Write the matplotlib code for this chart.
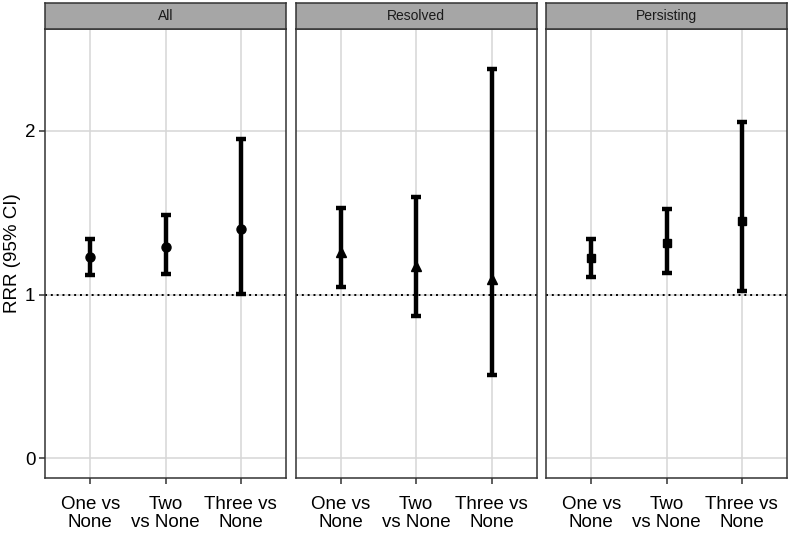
import matplotlib
matplotlib.use("Agg")
import matplotlib.pyplot as plt

plt.rcParams['font.family'] = ['Liberation Sans', 'DejaVu Sans']

panels = ["All", "Resolved", "Persisting"]
comparisons = ["One vs\nNone", "Two\nvs None", "Three vs\nNone"]
markers = {"All": "o", "Resolved": "^", "Persisting": "s"}

# estimated RRR and 95% CI per panel
rrr = {
    "All":        [1.227, 1.292, 1.398],
    "Resolved":   [1.262, 1.176, 1.093],
    "Persisting": [1.221, 1.314, 1.449],
}
lower = {
    "All":        [1.119, 1.125, 1.003],
    "Resolved":   [1.044, 0.869, 0.507],
    "Persisting": [1.107, 1.133, 1.020],
}
upper = {
    "All":        [1.341, 1.483, 1.947],
    "Resolved":   [1.526, 1.595, 2.377],
    "Persisting": [1.341, 1.522, 2.053],
}

W, H = 790, 533
fig = plt.figure(figsize=(W / 100, H / 100), dpi=100)

lefts = [45, 295.7, 546]
pw = 241
top, bottom = 28.7, 478.3
strip_h = 26

for i, name in enumerate(panels):
    ax = fig.add_axes([lefts[i] / W, (H - bottom) / H, pw / W, (bottom - top) / H])
    x = list(range(1, len(comparisons) + 1))
    y = rrr[name]
    err_lo = [a - b for a, b in zip(y, lower[name])]
    err_hi = [b - a for a, b in zip(y, upper[name])]
    ax.axhline(1, color="black", linestyle=(0, (1, 2)), linewidth=1.4, zorder=2)
    ax.errorbar(x, y, yerr=[err_lo, err_hi], fmt="none", ecolor="black",
                elinewidth=3.2, capsize=3.8, capthick=3.2, zorder=3)
    ms = 6.5 if markers[name] != "s" else 6
    ax.plot(x, y, linestyle="none", marker=markers[name], color="black",
            markersize=ms, zorder=4)
    ax.set_xlim(0.4, 3.6)
    ax.set_ylim(-0.122, 2.623)
    ax.set_yticks([0, 1, 2])
    ax.set_xticks(x)
    ax.set_xticklabels(comparisons, fontsize=13.5, linespacing=1.08)
    ax.grid(True, color="#d6d6d6", linewidth=1.1, zorder=0)
    ax.set_axisbelow(True)
    for s in ax.spines.values():
        s.set_color("#333333")
        s.set_linewidth(1.1)
    ax.tick_params(axis="x", length=4, width=1.1, color="#333333", pad=8.5, labelcolor="black")
    ax.tick_params(axis="y", length=4, width=1.1, color="#333333", pad=3, labelcolor="black")
    if i == 0:
        ax.set_yticklabels(["0", "1", "2"], fontsize=13.5)
        ax.set_ylabel("RRR (95% CI)", fontsize=13.5)
        ax.yaxis.set_label_coords(-0.10, 0.5)
    else:
        ax.tick_params(axis="y", length=0, labelleft=False)

    sax = fig.add_axes([lefts[i] / W, (H - top) / H, pw / W, strip_h / H])
    sax.set_facecolor("#a6a6a6")
    sax.set_xticks([])
    sax.set_yticks([])
    for s in sax.spines.values():
        s.set_color("#333333")
        s.set_linewidth(1.1)
    sax.text(0.5, 0.5, name, ha="center", va="center", fontsize=10,
             color="#1a1a1a", transform=sax.transAxes)

fig.savefig("out.png", dpi=100)
